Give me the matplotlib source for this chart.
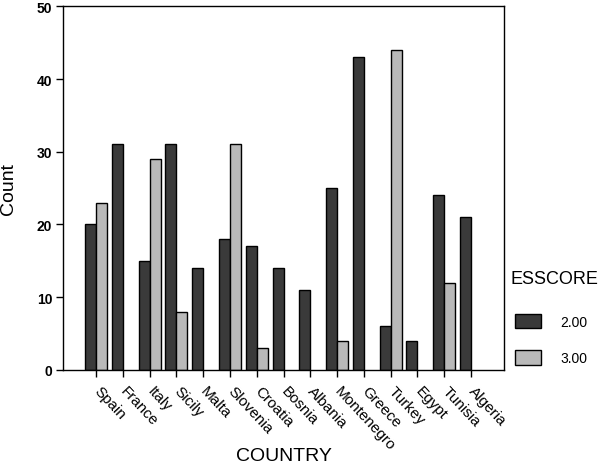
import matplotlib
matplotlib.use("Agg")
import matplotlib.pyplot as plt
import matplotlib.transforms as mtransforms
import numpy as np
from matplotlib.patches import Patch

plt.rcParams['font.family'] = ['Liberation Sans', 'DejaVu Sans']

countries = ["Spain", "France", "Italy", "Sicily", "Malta", "Slovenia", "Croatia",
             "Bosnia", "Albania", "Montenegro", "Greece", "Turkey", "Egypt",
             "Tunisia", "Algeria"]
score_200 = [20, 31, 15, 31, 14, 18, 17, 14, 11, 25, 43, 6, 4, 24, 21]
score_300 = [23, 0, 29, 8, 0, 31, 3, 0, 0, 4, 0, 44, 0, 12, 0]
series_labels = ["2.00", "3.00"]
y_ticks = [0, 10, 20, 30, 40, 50]

dark = "#3a3a3a"
light = "#b9b9b9"

fig = plt.figure(figsize=(6.0, 4.64), dpi=100)
ax = fig.add_axes([0.1055, 0.201, 0.7345, 0.783])

x = np.arange(len(countries))
w = 0.41
ax.bar(x - w / 2, score_200, width=w, color=dark, edgecolor="black", linewidth=1.0)
s3 = np.array(score_300, dtype=float)
mask = s3 > 0
ax.bar(x[mask] + w / 2, s3[mask], width=w, color=light, edgecolor="black", linewidth=1.0)

ax.set_xlim(-1.22, 14.0 + 1.23)
ax.set_ylim(0, 50)
ax.set_yticks(y_ticks)
ax.set_yticklabels([str(v) for v in y_ticks], fontweight="bold", fontsize=10)
ax.set_xticks(x)
ax.set_xticklabels(countries, rotation=-47, ha="left", va="center",
                   rotation_mode="anchor", fontsize=11)
offset = mtransforms.ScaledTranslation(9 / 100, 0, fig.dpi_scale_trans)
for lab in ax.get_xticklabels():
    lab.set_transform(lab.get_transform() + offset)
ax.tick_params(axis="x", direction="out", length=5, width=1, pad=8)
ax.tick_params(axis="y", direction="out", length=5, width=1, pad=3)
for sp in ax.spines.values():
    sp.set_linewidth(1.0)

ax.set_xlabel("COUNTRY", fontsize=14)
ax.xaxis.set_label_coords(0.5, -0.2127)
ax.set_ylabel("Count", fontsize=14)
ax.yaxis.label.set_va("center")
ax.yaxis.set_label_coords(-0.124, 0.5)

fig.text(510 / 600, 1 - 279 / 464, "ESSCORE", fontsize=13, ha="left", va="center")
handles = [Patch(facecolor=dark, edgecolor="black", linewidth=1.0),
           Patch(facecolor=light, edgecolor="black", linewidth=1.0)]
leg = fig.legend(handles, series_labels, loc="upper left",
                 bbox_to_anchor=(515 / 600, 1 - 315 / 464), frameon=False,
                 borderpad=0, borderaxespad=0,
                 handlelength=1.87, handleheight=1.22, labelspacing=1.55,
                 handletextpad=1.37, fontsize=10)

fig.savefig("out.png", dpi=100)
